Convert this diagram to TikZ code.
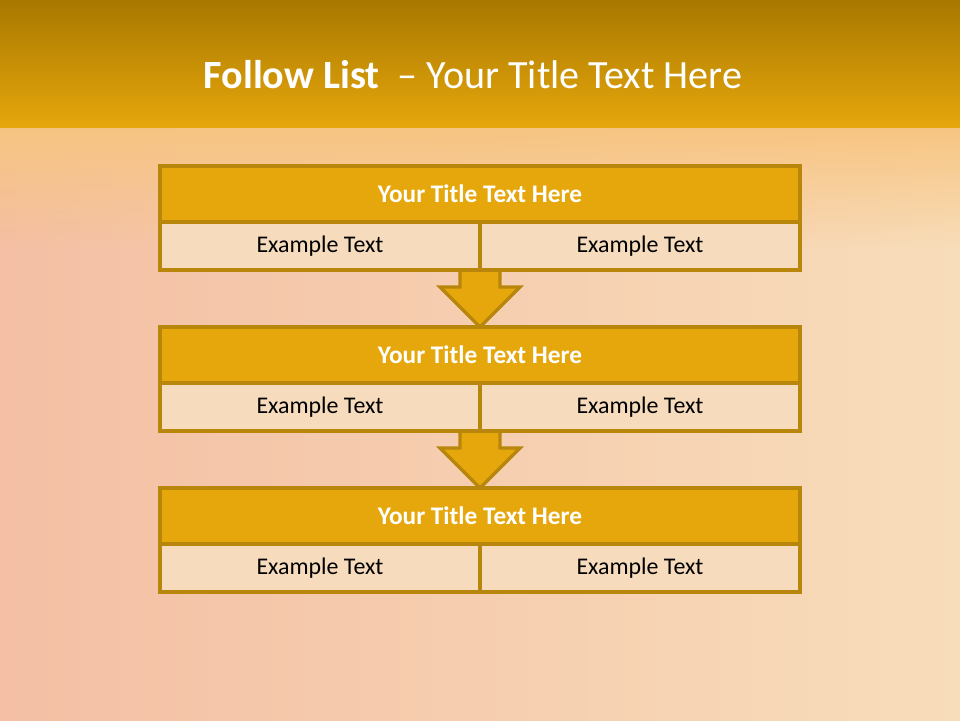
\documentclass[tikz,border=0pt]{standalone}
\usepackage{fontspec}
\setmainfont{Carlito}
\usetikzlibrary{positioning, calc, backgrounds, fadings}

\definecolor{bandtop}{HTML}{A87800}
\definecolor{bandbot}{HTML}{E6A70C}
\definecolor{gold}{HTML}{E6A70C}
\definecolor{goldline}{HTML}{B8860B}
\definecolor{peach}{HTML}{F6DBBD}
\definecolor{bgleft}{HTML}{F4BFA4}
\definecolor{bgright}{HTML}{F8DDBA}
\definecolor{glow}{HTML}{F7C582}

\begin{document}
\begin{tikzpicture}[
    head/.style={rectangle, draw=goldline, fill=gold, line width=2.4pt, outer sep=0pt, minimum width=16cm, minimum height=1.4cm, inner sep=0pt, text=white, font=\fontsize{18}{21}\selectfont\bfseries},
    cell/.style={rectangle, draw=goldline, fill=peach, line width=2.4pt, outer sep=0pt, minimum width=8cm, minimum height=1.2cm, inner sep=0pt, font=\fontsize{17}{20}\selectfont},
    flow/.style={draw=goldline, fill=gold, line width=2.4pt, line join=miter}
]
\useasboundingbox (0,0) rectangle (24,18);
% slide title
\node[text=white, font=\fontsize{28.5}{33}\selectfont] (title) at (11.825,16.125) {\textbf{Follow List}\ \ – Your Title Text Here};
% stages
\foreach \i/\y in {1/13.85,2/9.825,3/5.8}{
  \node[head, anchor=north] (t\i) at (12,\y) {Your Title Text Here};
  \node[cell, anchor=north east] (l\i) at (t\i.south) {Example Text};
  \node[cell, anchor=north west] (r\i) at (t\i.south) {Example Text};
}
\begin{scope}[on background layer]
% background and band
\shade[left color=bgleft, right color=bgright] (0,0) rectangle (24,14.8);
\fill[glow, path fading=south] (0,11.8) rectangle (24,14.8);
\shade[top color=bandtop, bottom color=bandbot] (0,14.8) rectangle (24,18);
% arrows between stages
\foreach \i/\j in {1/2,2/3}{
  \draw[flow] ($(l\i.south east)+(-0.5,0)$) -- ++(0,-0.425) -- ++(-0.5,0) -- (t\j.north)
    -- ($(l\i.south east)+(1,-0.425)$) -- ++(-0.5,0) -- ($(l\i.south east)+(0.5,0)$) -- cycle;
}
\end{scope}
\end{tikzpicture}
\end{document}
